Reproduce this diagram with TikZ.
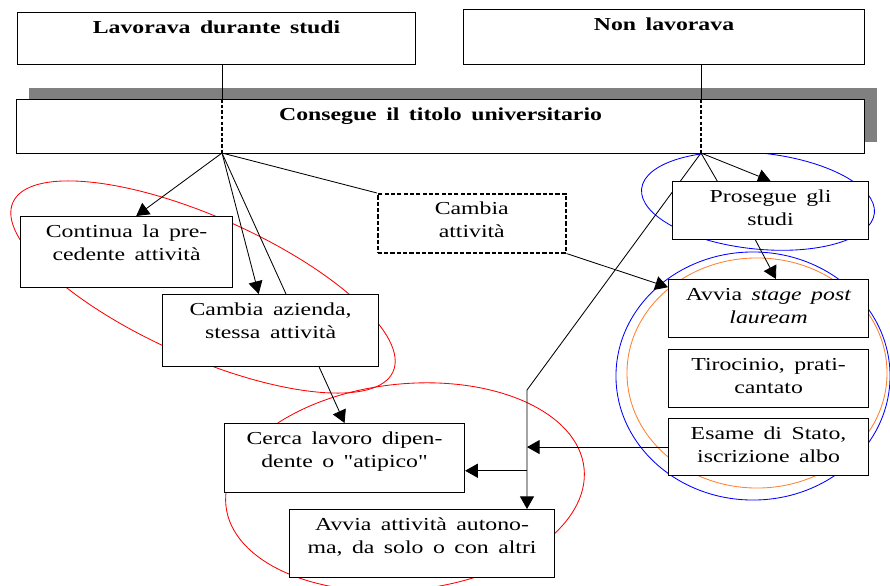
\documentclass[tikz,border=0pt]{standalone}
\usepackage{fontspec}
\setmainfont{Liberation Serif}[FakeStretch=1.3, WordSpace=1.6, Ligatures=TeXOff]
\usetikzlibrary{arrows.meta,shadows,backgrounds}
\definecolor{ringorange}{RGB}{255,128,48}
\newlength{\pxu}
\setlength{\pxu}{0.025cm}
\newcommand{\boxtext}[3]{\parbox[t][#2\pxu][t]{#1\pxu}{\centering\rule{0pt}{15pt}#3}}

\begin{document}
\begin{tikzpicture}[x=0.025cm, y=-0.025cm,
    box/.style={draw, fill=white, line width=0.8pt, inner sep=0pt, anchor=north west,
      font=\fontsize{13pt}{16.4pt}\selectfont},
    link/.style={line width=0.6pt},
    arr/.style={link, -{Triangle[length=9pt, width=10pt]}},
    ring/.style={line width=0.6pt}]
    \useasboundingbox (0,0) rectangle (890,586);

    % Top boxes
    \node[box] (lavorava) at (17,12) {\boxtext{398}{52}{\bfseries Lavorava durante studi}};
    \node[box] (nonlav) at (463,9) {\boxtext{401}{55}{\bfseries Non lavorava}};
    \node[box, drop shadow={shadow xshift=0.3cm, shadow yshift=0.28cm, fill=black!50, opacity=1}]
      (consegue) at (16,99) {\boxtext{848}{54}{\bfseries Consegue il titolo universitario}};

    \coordinate (hubL) at (222,153);
    \coordinate (hubR) at (701,153);
    \coordinate (knee) at (527,390);

    % Left side
    \node[box] (continua) at (20,216) {\boxtext{212}{71}{Continua la pre-\\cedente attività}};
    \node[box] (cambiaz) at (162,294) {\boxtext{216}{72}{Cambia azienda,\\stessa attività}};
    \node[box, dash pattern=on 3pt off 1.5pt, line width=1.1pt]
      (cambat) at (377,193) {\boxtext{188}{59}{Cambia\\attività}};
    \node[box] (cerca) at (224,423) {\boxtext{240}{69}{Cerca lavoro dipen-\\dente o "atipico"}};
    \node[box] (avvaut) at (289,509) {\boxtext{265}{68}{Avvia attività autono-\\ma, da solo o con altri}};

    % Right side
    \node[box] (prosegue) at (672,181) {\boxtext{196}{58}{Prosegue gli\\studi}};
    \node[box] (avvstage) at (668,279) {\boxtext{200}{58}{Avvia \textit{stage post}\\\textit{lauream}}};
    \node[box] (tirocinio) at (668,349) {\boxtext{200}{58}{Tirocinio, prati-\\cantato}};
    \node[box] (esame) at (668,418) {\boxtext{200}{57}{Esame di Stato,\\iscrizione albo}};

    % Lines into the title box
    \draw[link] (lavorava.south -| hubL) -- (consegue.north -| hubL);
    \draw[link] (nonlav.south -| hubR) -- (consegue.north -| hubR);
    \draw[dash pattern=on 2.5pt off 1.5pt, line width=0.9pt] (consegue.north -| hubL) -- (hubL);
    \draw[dash pattern=on 2.5pt off 1.5pt, line width=0.9pt] (consegue.north -| hubR) -- (hubR);

    \begin{scope}[on background layer]
      % Rings
      \draw[ring, red, rotate around={-24:(203,287)}] (203,287) ellipse [x radius=5.2cm, y radius=1.75cm];
      \draw[ring, red, rotate around={6:(405,487)}] (405,487) ellipse [x radius=4.5cm, y radius=2.575cm];
      \draw[ring, blue, rotate around={-6:(758,201)}] (758,201) ellipse [x radius=2.925cm, y radius=1.2cm];
      \draw[ring, blue] (753,376) ellipse [x radius=3.425cm, y radius=3.1cm];
      \draw[ring, ringorange] (757,373) ellipse [x radius=3.25cm, y radius=2.875cm];

      % Connectors
      \draw[arr] (hubL) -- (continua.75);
      \draw[arr] (hubL) -- (cambiaz.108);
      \draw[arr] (hubL) -- (cerca.north);
      \draw[link] (hubL) -- (cambat.north west);
      \draw[arr] (cambat.south east) -- (avvstage.168);
      \draw[link] (hubR) -- (prosegue.151);
      \draw[arr] (hubR) -- (prosegue.north);
      \draw[arr] (hubR) -- (knee) -- (knee |- avvaut.north);
      \draw[arr] (prosegue.-117) -- (avvstage.76);
      \draw[arr] (esame.west) -- (knee |- esame.west);
      \draw[arr] (knee |- cerca.-6) -- (cerca.-6);
    \end{scope}
\end{tikzpicture}
\end{document}
